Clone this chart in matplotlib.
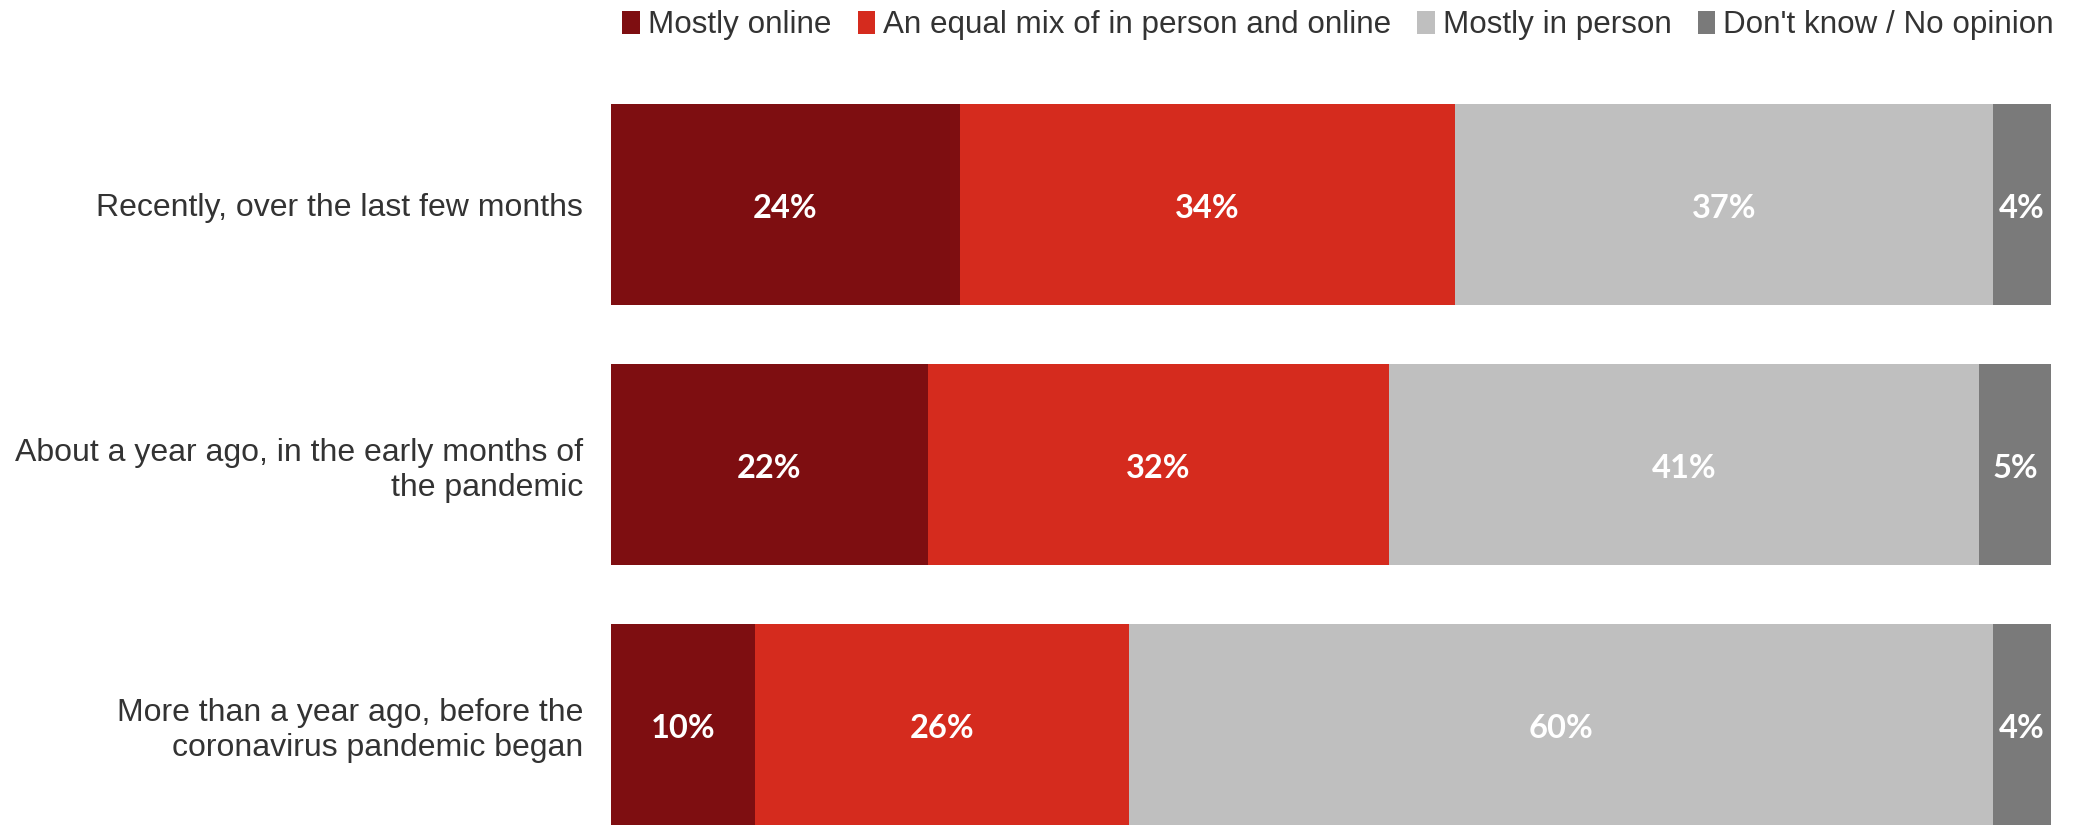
import numpy as np
import matplotlib
matplotlib.use("Agg")
import matplotlib.pyplot as plt
from matplotlib.patches import Patch

# data
categories = [
    "Recently, over the last few months",
    "About a year ago, in the early months of\nthe pandemic",
    "More than a year ago, before the\ncoronavirus pandemic began",
]
series_names = ["Mostly online", "An equal mix of in person and online",
                "Mostly in person", "Don't know / No opinion"]
mostly_online = [24, 22, 10]
equal_mix = [34, 32, 26]
mostly_in_person = [37, 41, 60]
dont_know = [4, 5, 4]

colors = ["#7E0E11", "#D52B1E", "#BFBFBF", "#7A7A7A"]

vals = np.array([mostly_online, equal_mix, mostly_in_person, dont_know], dtype=float)
shares = vals / vals.sum(axis=0) * 100  # rounded labels, bars fill the row

fig = plt.figure(figsize=(20.82, 8.25), dpi=100)
ax = fig.add_axes([611 / 2082, 0.0, 1440 / 2082, (825 - 60) / 825])

y = np.arange(len(categories))
left = np.zeros(len(categories))
for i in range(len(series_names)):
    ax.barh(y, shares[i], left=left, height=0.773, color=colors[i],
            edgecolor="none")
    for j in range(len(categories)):
        ax.text(left[j] + shares[i][j] / 2, y[j] + 0.015, f"{int(vals[i][j])}%",
                ha="center", va="center", color="white", fontsize=23.5,
                fontweight="bold", family="Lato")
    left += shares[i]

ax.set_xlim(0, 100)
ax.set_ylim(2.3865, -0.556)
ax.set_yticks(y)
ax.set_yticklabels(categories, fontsize=23, family="Liberation Sans",
                   color="#333333", linespacing=1.22)
ax.tick_params(axis="y", length=0, pad=20)
ax.set_xticks([])
for s in ax.spines.values():
    s.set_visible(False)

handles = [Patch(facecolor=c, edgecolor="none") for c in colors]
fig.legend(handles, series_names, loc="upper right", ncol=4,
           bbox_to_anchor=(1.0, 1.022), frameon=False,
           prop={"family": "Liberation Sans", "size": 22.6},
           handlelength=0.55, handleheight=0.75, handletextpad=0.25,
           columnspacing=0.85, labelcolor="#333333")

fig.savefig("out.png", dpi=100)
